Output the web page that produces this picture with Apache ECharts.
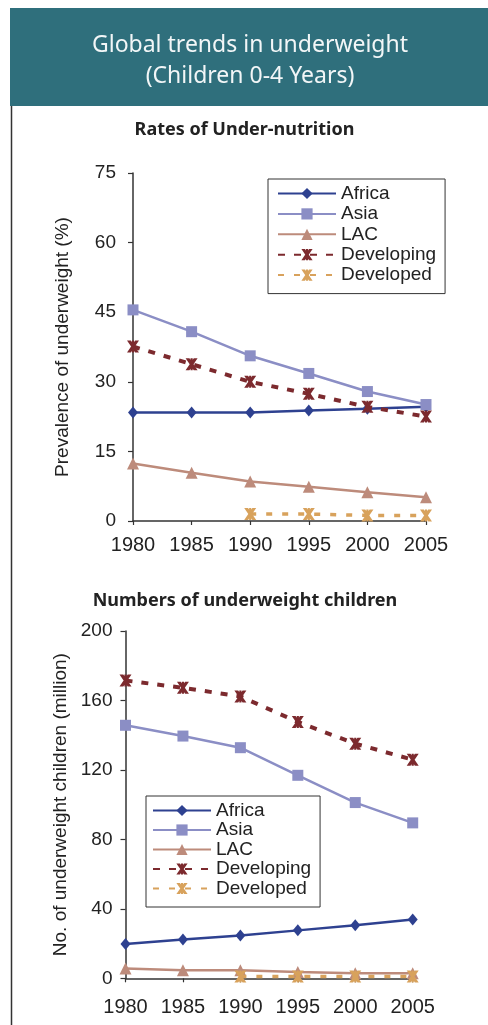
<!DOCTYPE html>
<html>
<head>
<meta charset="utf-8">
<script src="https://cdn.jsdelivr.net/npm/echarts@6/dist/echarts.min.js"></script>
<style>
html,body{margin:0;padding:0;background:#fff;}
#chart{width:488px;height:1025px;}
</style>
</head>
<body>
<div id="chart"></div>
<script>
// ---- data ----
const years = ['1980', '1985', '1990', '1995', '2000', '2005'];
const seriesNames = ['Africa', 'Asia', 'LAC', 'Developing', 'Developed'];

// Rates of under-nutrition (%)
const rateAfrica     = [23.4, 23.4, 23.4, 23.8, 24.2, 24.6];
const rateAsia       = [45.5, 40.8, 35.6, 31.8, 27.9, 25.1];
const rateLAC        = [12.4, 10.4, 8.5, 7.4, 6.2, 5.1];
const rateDeveloping = [37.6, 33.8, 30.0, 27.4, 24.6, 22.5];
const rateDeveloped  = [null, null, 1.5, 1.5, 1.2, 1.2];

// Numbers of underweight children (million)
const numAfrica     = [19.7, 22.4, 24.7, 27.6, 30.6, 33.9];
const numAsia       = [145.7, 139.5, 132.8, 116.9, 101.2, 89.5];
const numLAC        = [5.7, 4.6, 4.6, 3.6, 2.9, 2.9];
const numDeveloping = [171.5, 167.3, 162.3, 147.6, 135.1, 125.9];
const numDeveloped  = [null, null, 1.0, 1.0, 1.0, 1.0];

const mainTitle = ['Global trends in underweight', '(Children 0-4 Years)'];
const topTitle = 'Rates of Under-nutrition';
const bottomTitle = 'Numbers of underweight children';
const topYName = 'Prevalence of underweight (%)';
const bottomYName = 'No. of underweight children (million)';

// ---- styles ----
const FONT = 'Liberation Sans';
const TXT = '#222';
const AX = '#333';
const xMark = 'path://M0,0 L3.2,0 L10,10 L6.8,10 Z M6.8,0 L10,0 L3.2,10 L0,10 Z M4.1,0 L5.9,0 L5.9,10 L4.1,10 Z';
const styles = {
  Africa:     {color: '#2e4190', symbol: 'diamond',  size: [10, 12], line: {width: 2.5, type: 'solid'}},
  Asia:       {color: '#8b8ec5', symbol: 'rect',     size: 11,       line: {width: 2.5, type: 'solid'}},
  LAC:        {color: '#bd8b7b', symbol: 'triangle', size: 12,       line: {width: 2.5, type: 'solid'}},
  Developing: {color: '#7c2a2e', symbol: xMark,      size: 12,       line: {width: 4,   type: [7, 9]}},
  Developed:  {color: '#d8a25c', symbol: xMark,      size: 12,       line: {width: 3.5, type: [6, 10]}}
};

function mk(name, data, idx) {
  const s = styles[name];
  return {
    name: name, type: 'line', data: data,
    xAxisIndex: idx, yAxisIndex: idx,
    symbol: s.symbol, symbolSize: s.size, showSymbol: true,
    connectNulls: false,
    itemStyle: {color: s.color},
    lineStyle: {color: s.color, width: s.line.width, type: s.line.type, cap: 'butt'},
    emphasis: {disabled: true},
    animation: false, z: name.startsWith('Develop') ? 3 : 2
  };
}

const xAxisBase = (idx, margin) => ({
  type: 'category', gridIndex: idx, data: years, boundaryGap: false,
  axisLine: {show: true, lineStyle: {color: AX, width: 1.5}},
  axisTick: {show: true, length: 4, interval: 0, lineStyle: {color: AX, width: 1.2}},
  axisLabel: {fontSize: 20, fontFamily: FONT, color: TXT, margin: margin, interval: 0, hideOverlap: false},
  splitLine: {show: false}
});

const yAxisBase = (idx, max, interval, name, nameGap, margin) => ({
  type: 'value', gridIndex: idx, min: 0, max: max, interval: interval,
  axisLine: {show: true, lineStyle: {color: AX, width: 1.5}},
  axisTick: {show: true, length: 5, lineStyle: {color: AX, width: 1.2}},
  axisLabel: {fontSize: 19, fontFamily: FONT, color: TXT, margin: margin},
  splitLine: {show: false},
  name: name, nameLocation: 'middle', nameGap: nameGap,
  nameTextStyle: {fontSize: 19, fontFamily: FONT, color: TXT}
});

const legendBase = (left, top, padding, gap, lh) => ({
  orient: 'vertical', left: left, top: top, padding: padding,
  itemWidth: 58, itemHeight: 14, itemGap: gap,
  borderColor: AX, borderWidth: 1, backgroundColor: '#fff',
  textStyle: {fontSize: 19, fontFamily: FONT, color: TXT, lineHeight: lh},
  data: seriesNames, selectedMode: false
});

const textEl = (x, y, text, size, weight) => ({
  type: 'text', x: x, y: y, silent: true,
  style: {text: text, fontSize: size, fontWeight: weight, fontFamily: 'Noto Sans',
    fill: weight === 'bold' ? '#222' : '#f2f6f7',
    align: 'center', verticalAlign: 'middle', textAlign: 'center', textVerticalAlign: 'middle'}
});

const option = {
  backgroundColor: '#fff',
  animation: false,
  grid: [
    {left: 133, right: 62, top: 173, bottom: 504, outerBoundsMode: 'none'},
    {left: 125.5, right: 75.3, top: 631, bottom: 46.7, outerBoundsMode: 'none'}
  ],
  xAxis: [xAxisBase(0, 14), xAxisBase(1, 19)],
  yAxis: [
    yAxisBase(0, 75, 15, topYName, 61, 17),
    yAxisBase(1, 200, 40, bottomYName, 54, 13)
  ],
  legend: [
    legendBase(268, 179, [5, 9, 9, 9], 1.4, 19),
    legendBase(146, 796, [5, 9, 9, 6], 0.5, 18)
  ],
  graphic: [
    {type: 'rect', shape: {x: 10, y: 8, width: 478, height: 98}, style: {fill: '#2f6f7c'}, silent: true},
    {type: 'line', shape: {x1: 11.5, y1: 106, x2: 11.5, y2: 1025}, style: {stroke: '#333', lineWidth: 1.5}, silent: true},
    textEl(250, 45, mainTitle[0], 23, 'normal'),
    textEl(250, 76, mainTitle[1], 23, 'normal'),
    textEl(244.5, 130, topTitle, 18, 'bold'),
    textEl(245, 601, bottomTitle, 18, 'bold')
  ],
  series: [
    mk('Africa', rateAfrica, 0),
    mk('Asia', rateAsia, 0),
    mk('LAC', rateLAC, 0),
    mk('Developing', rateDeveloping, 0),
    mk('Developed', rateDeveloped, 0),
    mk('Africa', numAfrica, 1),
    mk('Asia', numAsia, 1),
    mk('LAC', numLAC, 1),
    mk('Developing', numDeveloping, 1),
    mk('Developed', numDeveloped, 1)
  ]
};

const chart = echarts.init(document.getElementById('chart'), null, {renderer: 'canvas'});
chart.setOption(option);
</script>
</body>
</html>
